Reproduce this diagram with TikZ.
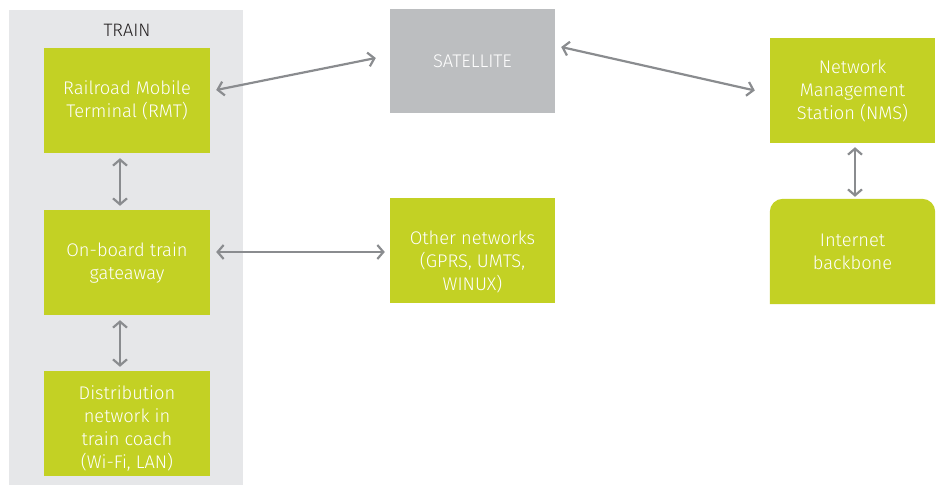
\documentclass[tikz,border=0pt]{standalone}
\usepackage{fontspec}
\setmainfont{Fira Sans}[UprightFont=* Light]
\usetikzlibrary{arrows.meta,backgrounds}
\definecolor{lime}{RGB}{195,209,36}
\definecolor{satgray}{RGB}{188,190,192}
\definecolor{trainbg}{RGB}{230,231,233}
\definecolor{arrgray}{RGB}{138,140,143}
\definecolor{darktext}{RGB}{35,31,32}
\tikzset{
  boxtext/.style={text=white, inner sep=0pt, align=center, font=\fontsize{18.3}{23}\selectfont},
  box/.style={boxtext, fill=lime, minimum width=166pt, minimum height=105pt},
  satbox/.style={box, fill=satgray},
  plainbox/.style={box, fill=none},
  arr/.style={draw=arrgray, line width=2.2pt, {Straight Barb[length=6pt,width=14pt,line width=2.2pt]}-{Straight Barb[length=6pt,width=14pt,line width=2.2pt]}},
}
\begin{document}
\begin{tikzpicture}[x=1pt,y=-1pt]
\useasboundingbox (0,0) rectangle (941,485);
\fill[trainbg] (9,10) rectangle (243,485);
\node[font=\fontsize{18}{20}\selectfont, text=darktext] (train) at (127,30) {TRAIN};
\node[box] (rmt) at (127,100.5) {Railroad Mobile\\Terminal (RMT)};
\node[box] (gw) at (127,262.5) {On-board train\\gateaway};
\node[box] (dist) at (127,423.5) {};
\node[boxtext] (disttxt) at (127,428) {Distribution\\network in\\train coach\\(Wi-Fi, LAN)};
\node[satbox, minimum width=165pt, minimum height=104pt] (sat) at (472.5,61) {SATELLITE};
\node[box, minimum width=165pt] (other) at (472.5,250.5) {};
\node[boxtext] (othertxt) at (472.5,261.5) {Other networks\\(GPRS, UMTS,\\WINUX)};
\node[box, minimum width=165pt] (nms) at (852.5,90.5) {Network\\Management\\Station (NMS)};
\node[plainbox, minimum width=165pt] (inet) at (852.5,251.5) {Internet\\backbone};
\begin{scope}[on background layer]
\fill[lime] (inet.south west) -- ([yshift=-30pt]inet.west) [rounded corners=13pt] -- (inet.north west) -- (inet.north east) -- ([yshift=-30pt]inet.east) [sharp corners] -- (inet.south east) -- cycle;
\end{scope}
\draw[arr] ([shift={(6,-10.5)}]rmt.east) -- ([shift={(-14,-3)}]sat.west);
\draw[arr] ([shift={(6,-14)}]sat.east) -- ([shift={(-15,0)}]nms.west);
\draw[arr] ([shift={(-7,5)}]rmt.south) -- ([shift={(-7,-4)}]gw.north);
\draw[arr] ([shift={(-7,5)}]gw.south) -- ([shift={(-7,-4)}]dist.north);
\draw[arr] ([shift={(6,-10.5)}]gw.east) -- ([shift={(-5,1.5)}]other.west);
\draw[arr] ([shift={(2.5,4)}]nms.south) -- ([shift={(2.5,-2)}]inet.north);
\end{tikzpicture}
\end{document}
